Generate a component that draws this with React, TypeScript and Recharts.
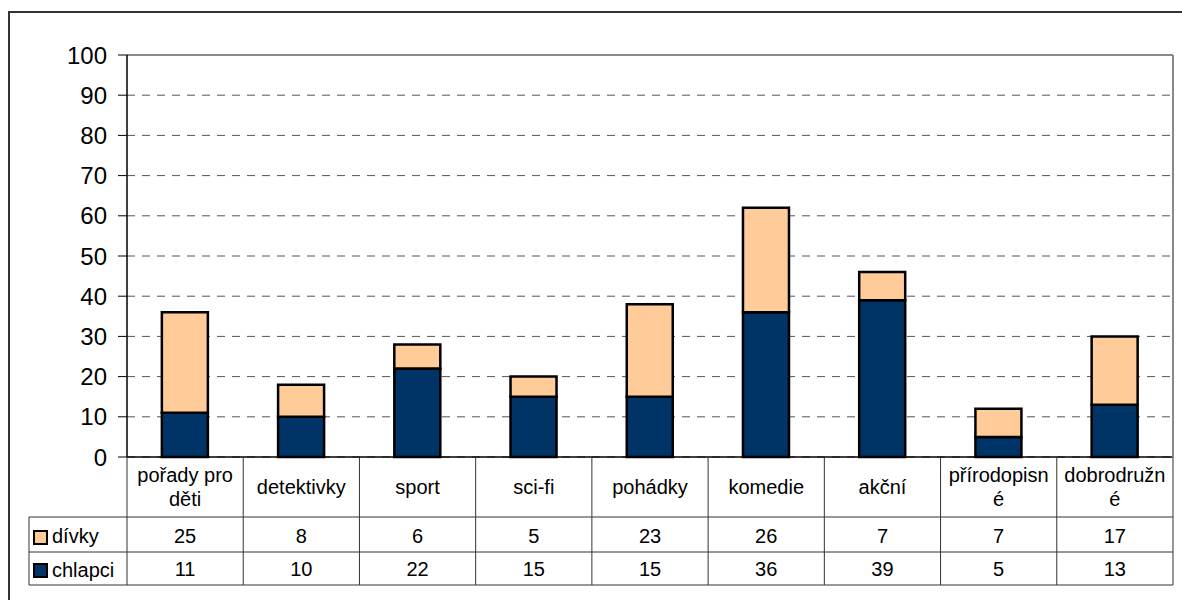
import { BarChart, Bar, XAxis, YAxis, CartesianGrid, ReferenceLine } from "recharts";

const categories = [
  "pořady pro děti",
  "detektivky",
  "sport",
  "sci-fi",
  "pohádky",
  "komedie",
  "akční",
  "přírodopisné",
  "dobrodružné",
];
// header cells wrap like in the original table
const tickLabels = [
  ["pořady pro", "děti"],
  ["detektivky"],
  ["sport"],
  ["sci-fi"],
  ["pohádky"],
  ["komedie"],
  ["akční"],
  ["přírodopisn", "é"],
  ["dobrodružn", "é"],
];
const divky = [25, 8, 6, 5, 23, 26, 7, 7, 17];
const chlapci = [11, 10, 22, 15, 15, 36, 39, 5, 13];
const yTicks = [0, 10, 20, 30, 40, 50, 60, 70, 80, 90, 100];

const data = categories.map((name, i) => ({
  name,
  chlapci: chlapci[i],
  divky: divky[i],
}));

const FONT = "'Liberation Sans', Arial, sans-serif";
const PLOT_LEFT = 127;
const PLOT_RIGHT = 1173;
const BAND = (PLOT_RIGHT - PLOT_LEFT) / categories.length;
const AXIS_Y = 457;
const ROW1 = 517;
const ROW2 = 552;
const ROW3 = 585;
const LEGEND_X = 29;
const LINE = "#333";

function TableColumn(props: any) {
  const { x } = props;
  const index = props.index ?? props.payload?.index ?? 0;
  const left = x - BAND / 2;
  const right = x + BAND / 2;
  const lines = tickLabels[index];
  const labelY = lines.length === 1 ? 494 : 482;

  return (
    <g fontFamily={FONT} fontSize={20} fill="#000">
      {index === 0 && (
        <g>
          <line x1={left} y1={AXIS_Y} x2={left} y2={ROW3} stroke={LINE} />
          <line x1={LEGEND_X} y1={ROW1} x2={left} y2={ROW1} stroke={LINE} />
          <line x1={LEGEND_X} y1={ROW2} x2={left} y2={ROW2} stroke={LINE} />
          <line x1={LEGEND_X} y1={ROW3} x2={left} y2={ROW3} stroke={LINE} />
          <line x1={LEGEND_X} y1={ROW1} x2={LEGEND_X} y2={ROW3} stroke={LINE} />
          <rect x={34} y={531} width={13} height={13} fill="#FFCC99" stroke="#000" strokeWidth={2} />
          <text x={52} y={543} textAnchor="start">dívky</text>
          <rect x={34} y={564} width={13} height={13} fill="#003366" stroke="#000" strokeWidth={2} />
          <text x={52} y={577} textAnchor="start">chlapci</text>
        </g>
      )}
      <line x1={right} y1={AXIS_Y} x2={right} y2={ROW3} stroke={LINE} />
      <line x1={left} y1={ROW1} x2={right} y2={ROW1} stroke={LINE} />
      <line x1={left} y1={ROW2} x2={right} y2={ROW2} stroke={LINE} />
      <line x1={left} y1={ROW3} x2={right} y2={ROW3} stroke={LINE} />
      <text x={x} y={labelY} textAnchor="middle">
        {lines.map((l, k) => (
          <tspan key={k} x={x} dy={k ? 24 : 0}>
            {l}
          </tspan>
        ))}
      </text>
      <text x={x} y={543} textAnchor="middle">{divky[index]}</text>
      <text x={x} y={576} textAnchor="middle">{chlapci[index]}</text>
    </g>
  );
}

export default function App() {
  return (
    <div
      style={{
        position: "absolute",
        left: 0,
        top: 0,
        width: 1182,
        height: 600,
        overflow: "hidden",
        background: "#fff",
      }}
    >
      <div
        style={{
          position: "absolute",
          left: 8,
          top: 11,
          width: 1200,
          height: 620,
          border: "2px solid #333",
        }}
      />
      <div style={{ position: "absolute", left: 0, top: 0 }}>
        <BarChart
          width={1182}
          height={600}
          data={data}
          margin={{ top: 55, right: 0, bottom: 0, left: 0 }}
          barCategoryGap="30%"
        >
          <CartesianGrid
            vertical={false}
            stroke="#555"
            strokeDasharray="8 7"
          />
          <XAxis
            dataKey="name"
            height={143}
            interval={0}
            tickLine={false}
            axisLine={{ stroke: "#000", strokeWidth: 1.5 }}
            tick={<TableColumn />}
          />
          <YAxis
            width={127}
            domain={[0, 100]}
            ticks={yTicks}
            interval={0}
            tickSize={9}
            tickMargin={11}
            axisLine={{ stroke: "#000", strokeWidth: 1.5 }}
            tickLine={{ stroke: "#000" }}
            tick={{ fill: "#000", fontSize: 24, fontFamily: FONT }}
          />
          <YAxis
            yAxisId="right"
            orientation="right"
            width={9}
            domain={[0, 100]}
            tick={false}
            tickLine={false}
            axisLine={{ stroke: "#888", strokeWidth: 2 }}
          />
          <ReferenceLine y={100} stroke="#888" strokeWidth={2} />
          <Bar
            dataKey="chlapci"
            stackId="a"
            fill="#003366"
            stroke="#000"
            strokeWidth={2.5}
            isAnimationActive={false}
          />
          <Bar
            dataKey="divky"
            stackId="a"
            fill="#FFCC99"
            stroke="#000"
            strokeWidth={2.5}
            isAnimationActive={false}
          />
        </BarChart>
      </div>
    </div>
  );
}
